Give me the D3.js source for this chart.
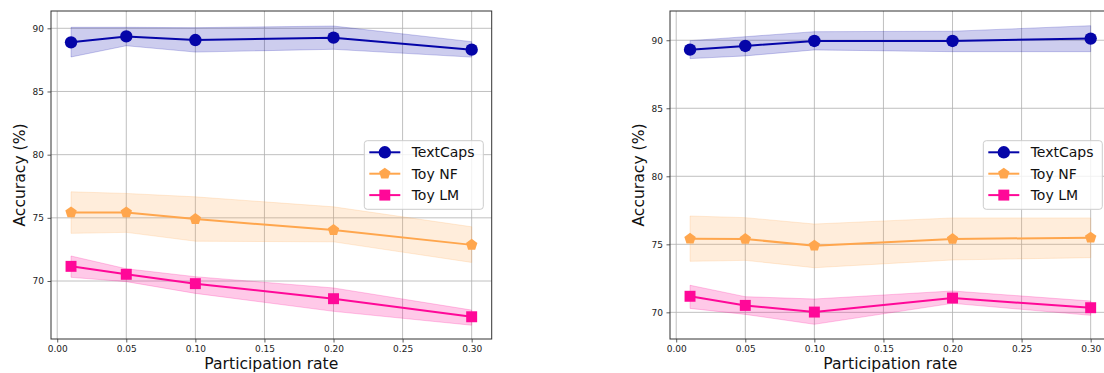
<!DOCTYPE html>
<html>
<head>
<meta charset="utf-8">
<script src="https://cdn.jsdelivr.net/npm/d3@7"></script>
<style>
  body { margin: 0; background: #fff; }
  svg { display: block; font-family: "DejaVu Sans", sans-serif; }
  .grid line { stroke: #b0b0b0; stroke-width: 0.8; }
  .tick text { fill: #222; }
</style>
</head>
<body>
<svg id="chart" width="1104" height="373"></svg>
<script>
var rates = [0.01, 0.05, 0.10, 0.20, 0.30];
var xTicks = [0.00, 0.05, 0.10, 0.15, 0.20, 0.25, 0.30];
var yTicks = [70, 75, 80, 85, 90];
var names = ["TextCaps", "Toy NF", "Toy LM"];
var colors = ["#0505a8", "#ffa64d", "#ff0898"];
var bandColors = ["#0505a8", "#ffa64d", "#ff0898"];
var bandAlpha = [0.2, 0.2, 0.22];

// left panel
var leftTextCaps = [88.89, 89.36, 89.07, 89.26, 88.31];
var leftTextCapsLo = [87.73, 88.62, 88.12, 88.34, 87.72];
var leftTextCapsHi = [90.08, 90.08, 90.05, 90.18, 88.94];
var leftNF = [75.43, 75.43, 74.90, 74.03, 72.86];
var leftNFLo = [73.77, 73.85, 73.15, 73.10, 71.47];
var leftNFHi = [77.06, 76.93, 76.66, 75.87, 74.29];
var leftLM = [71.16, 70.53, 69.79, 68.60, 67.17];
var leftLMLo = [70.29, 69.95, 69.02, 67.60, 66.50];
var leftLMHi = [71.98, 70.97, 70.34, 69.45, 67.70];

// right panel
var rightTextCaps = [89.31, 89.58, 89.95, 89.95, 90.12];
var rightTextCapsLo = [88.65, 88.85, 89.29, 89.16, 89.16];
var rightTextCapsHi = [89.97, 90.26, 90.63, 90.66, 91.07];
var rightNF = [75.41, 75.39, 74.90, 75.39, 75.49];
var rightNFLo = [73.75, 73.82, 73.28, 73.85, 74.02];
var rightNFHi = [77.08, 76.96, 76.49, 76.94, 76.94];
var rightLM = [71.18, 70.51, 70.02, 71.05, 70.34];
var rightLMLo = [70.29, 69.85, 69.12, 70.66, 69.78];
var rightLMHi = [71.99, 71.15, 70.98, 71.57, 70.83];

var svg = d3.select("#chart");

function pentagon(r) {
  var pts = [];
  for (var k = 0; k < 5; k++) {
    var a = -Math.PI / 2 + k * 2 * Math.PI / 5;
    pts.push([r * Math.cos(a), r * Math.sin(a)]);
  }
  return "M" + pts.join("L") + "Z";
}

function marker(g, i) {
  if (i == 0) return g.append("circle").attr("r", 6.2);
  if (i == 1) return g.append("path").attr("d", pentagon(6));
  return g.append("path").attr("d", d3.symbol().type(d3.symbolSquare).size(120)());
}

function panel(box, yDomain, series, legendX) {
  var x = d3.scaleLinear().domain([-0.0045, 0.3145]).range([box.left, box.right]);
  var y = d3.scaleLinear().domain(yDomain).range([box.bottom, box.top]);
  var g = svg.append("g");

  // grid
  var grid = g.append("g").attr("class", "grid");
  grid.selectAll(".gx").data(xTicks).enter().append("line")
    .attr("x1", function(d) { return x(d); }).attr("x2", function(d) { return x(d); })
    .attr("y1", box.top).attr("y2", box.bottom);
  grid.selectAll(".gy").data(yTicks).enter().append("line")
    .attr("y1", function(d) { return y(d); }).attr("y2", function(d) { return y(d); })
    .attr("x1", box.left).attr("x2", box.right);

  // bands
  series.forEach(function(s, i) {
    var pts = rates.map(function(r, k) { return {x: r, lo: s.lo[k], hi: s.hi[k]}; });
    g.append("path").datum(pts)
      .attr("d", d3.area().x(function(d) { return x(d.x); })
        .y0(function(d) { return y(d.lo); }).y1(function(d) { return y(d.hi); }))
      .attr("fill", bandColors[i]).attr("fill-opacity", bandAlpha[i])
      .attr("stroke", bandColors[i]).attr("stroke-opacity", bandAlpha[i]).attr("stroke-width", 1);
  });

  // lines + markers
  series.forEach(function(s, i) {
    var pts = rates.map(function(r, k) { return {x: r, v: s.mean[k]}; });
    g.append("path").datum(pts)
      .attr("d", d3.line().x(function(d) { return x(d.x); }).y(function(d) { return y(d.v); }))
      .attr("fill", "none").attr("stroke", colors[i]).attr("stroke-width", 2);
    pts.forEach(function(d) {
      var m = g.append("g").attr("transform", "translate(" + x(d.x) + "," + y(d.v) + ")");
      marker(m, i).attr("fill", colors[i]);
    });
  });

  // axes
  g.append("g").attr("transform", "translate(0," + box.bottom + ")")
    .call(d3.axisBottom(x).tickValues(xTicks).tickFormat(d3.format(".2f")).tickSize(3.5).tickPadding(3.5))
    .call(function(a) { a.select(".domain").remove(); })
    .selectAll("text").attr("font-size", 9).attr("font-family", "DejaVu Sans");
  g.append("g").attr("transform", "translate(" + box.left + ",0)")
    .call(d3.axisLeft(y).tickValues(yTicks).tickSize(3.5).tickPadding(3.5))
    .call(function(a) { a.select(".domain").remove(); })
    .selectAll("text").attr("font-size", 9).attr("font-family", "DejaVu Sans");
  g.selectAll(".tick line").attr("stroke", "#333").attr("stroke-width", 0.8);

  g.append("rect").attr("x", box.left).attr("y", box.top)
    .attr("width", box.right - box.left).attr("height", box.bottom - box.top)
    .attr("fill", "none").attr("stroke", "#333").attr("stroke-width", 1);

  // labels
  g.append("text").attr("x", (box.left + box.right) / 2).attr("y", 368.5)
    .attr("text-anchor", "middle").attr("font-size", 15.6).attr("fill", "#111")
    .text("Participation rate");
  g.append("text").attr("transform", "translate(" + (box.left - 26) + "," + ((box.top + box.bottom) / 2) + ") rotate(-90)")
    .attr("text-anchor", "middle").attr("font-size", 15.6).attr("fill", "#111")
    .text("Accuracy (%)");

  // legend
  var lg = g.append("g").attr("transform", "translate(" + legendX + ",140.7)");
  lg.append("rect").attr("width", 119).attr("height", 68.6).attr("rx", 3)
    .attr("fill", "#fff").attr("fill-opacity", 0.8).attr("stroke", "#cccccc").attr("stroke-width", 1);
  names.forEach(function(n, i) {
    var yy = 11.6 + i * 21.4;
    lg.append("line").attr("x1", 5).attr("x2", 36).attr("y1", yy).attr("y2", yy)
      .attr("stroke", colors[i]).attr("stroke-width", 2);
    var m = lg.append("g").attr("transform", "translate(20.5," + yy + ")");
    marker(m, i).attr("fill", colors[i]);
    lg.append("text").attr("x", 47.4).attr("y", yy + 5.2).attr("font-size", 14).attr("fill", "#111").text(n);
  });
}

panel({left: 51, right: 491.7, top: 11, bottom: 339}, [65.41, 91.37], [
  {mean: leftTextCaps, lo: leftTextCapsLo, hi: leftTextCapsHi},
  {mean: leftNF, lo: leftNFLo, hi: leftNFHi},
  {mean: leftLM, lo: leftLMLo, hi: leftLMHi}
], 364.3);

panel({left: 670, right: 1110.7, top: 11, bottom: 339}, [68.04, 92.15], [
  {mean: rightTextCaps, lo: rightTextCapsLo, hi: rightTextCapsHi},
  {mean: rightNF, lo: rightNFLo, hi: rightNFHi},
  {mean: rightLM, lo: rightLMLo, hi: rightLMHi}
], 983.3);
</script>
</body>
</html>
